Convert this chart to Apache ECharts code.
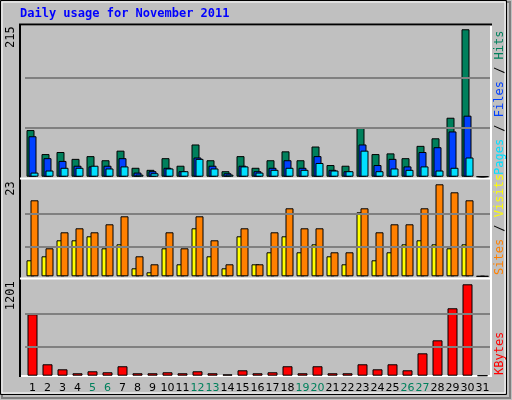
<!DOCTYPE html>
<html><head><meta charset="utf-8">
<script src="https://cdn.jsdelivr.net/npm/echarts@6/dist/echarts.min.js"></script>
<style>html,body{margin:0;padding:0;background:#c0c0c0}#c{width:512px;height:400px}</style>
</head><body><div id="c"></div>
<script>
const days = ['1','2','3','4','5','6','7','8','9','10','11','12','13','14','15','16','17','18','19','20','21','22','23','24','25','26','27','28','29','30','31'];
const weekendDays = ['5','6','12','13','19','20','26','27'];
const hits  = [68,33,36,26,30,24,38,13,10,27,16,47,24,8,30,13,24,37,24,44,17,16,72,33,34,27,45,56,86,215,0];
const files = [59,27,23,16,15,16,27,6,8,13,8,28,16,5,16,8,13,24,13,30,10,8,47,17,26,15,36,43,66,89,0];
const pages = [6,9,13,13,16,12,15,3,5,12,8,26,12,3,15,6,10,13,10,20,9,8,38,8,12,10,15,9,13,28,0];
const visits= [4,5,9,9,10,7,8,2,1,7,3,12,5,2,10,3,6,10,6,8,5,3,16,4,6,8,9,8,7,8,0];
const sites = [19,7,11,12,11,13,15,5,3,11,7,15,9,3,12,3,11,17,12,12,6,6,17,11,13,13,17,23,21,19,0];
const kbytes= [807,150,84,32,58,45,124,32,32,45,32,58,32,18,71,32,45,124,32,124,32,32,150,84,150,71,294,465,886,1201,0];

const MONO = 'DejaVu Sans Mono';
const L = 25, W = 465;
const panels = [{top:25.3,h:151.4,max:220.8,grid:[72.1,144.1]},
                {top:180.3,h:96,max:24,grid:[7.5,15.75]},
                {top:280.3,h:95.4,max:1253.6,grid:[386,820]}];
const grid = panels.map(p=>({left:L,width:W,top:p.top,height:p.h}));
const xAxis = panels.map((p,i)=>({type:'category',data:days,gridIndex:i,
  axisLine:{show:false},axisTick:{show:false},
  axisLabel:{show:i===2,interval:0,margin:7,fontFamily:'DejaVu Sans',fontSize:11,
    color:(v)=>weekendDays.includes(v)?'#00805c':'#000000'}}));
const yAxis = panels.map((p,i)=>({type:'value',gridIndex:i,min:0,max:p.max,
  axisLine:{show:false},axisTick:{show:false},axisLabel:{show:false},splitLine:{show:false}}));
const ml = (vals)=>({silent:true,symbol:'none',label:{show:false},
  lineStyle:{color:'#808080',type:'solid',width:2},data:vals.map(v=>({yAxis:v}))});
const bar = (name,data,color,ax,w,gap,extra)=>Object.assign({type:'bar',name,data,xAxisIndex:ax,yAxisIndex:ax,
  barWidth:w,barGap:gap,animation:false,itemStyle:{color,borderColor:'#000',borderWidth:1}},extra||{});
const series = [
  bar('Hits',hits,'#00805c',0,8,'-75%',{markLine:ml(panels[0].grid),z:1}),
  bar('Files',files,'#0040ff',0,8,'-75%',{z:2}),
  bar('Pages',pages,'#00e0ff',0,8,'-75%',{z:3}),
  bar('Visits',visits,'#ffff00',1,8,'-50%',{markLine:ml(panels[1].grid)}),
  bar('Sites',sites,'#ff8000',1,8,'-50%'),
  bar('KBytes',kbytes,'#ff0000',2,10,'0%',{markLine:ml(panels[2].grid)})
];
const maxLabels = [Math.max(...hits),Math.max(...sites),Math.max(...kbytes)].map(String);

const g = [];
g.push({type:'rect',shape:{x:2,y:2,width:508,height:396},style:{fill:'none',stroke:'#808080',lineWidth:2},z:-10});
g.push({type:'rect',shape:{x:0.5,y:0.5,width:506,height:394},style:{fill:'#c0c0c0',stroke:'#000',lineWidth:1},z:-9});
g.push({type:'rect',shape:{x:2,y:2,width:503,height:391},style:{fill:'none',stroke:'#ffffff',lineWidth:1},z:-9});
g.push({type:'rect',shape:{x:20,y:25,width:471,height:351},style:{fill:'#c0c0c0',stroke:'#ffffff',lineWidth:2},z:-5});
g.push({type:'polyline',shape:{points:[[20,377],[20,24.5],[492,24.5]]},style:{stroke:'#000',lineWidth:2,fill:null},z:-4});
g.push({type:'line',shape:{x1:20,y1:178.5,x2:491,y2:178.5},style:{stroke:'#fff',lineWidth:2},z:-4});
g.push({type:'line',shape:{x1:20,y1:278.5,x2:491,y2:278.5},style:{stroke:'#fff',lineWidth:2},z:-4});
g.push({type:'text',left:20,top:8,style:{text:'Daily usage for November 2011',font:'bold 12px '+MONO,fill:'#0000ff'}});
panels.forEach((p,i)=>{
  g.push({type:'text',x:5,y:p.top+1,rotation:Math.PI/2,style:{text:maxLabels[i],font:'12px '+MONO,fill:'#000',align:'right',verticalAlign:'top'}});
});
function legend(parts,yBottom){
  g.push({type:'text',x:494,y:yBottom,rotation:Math.PI/2,
    style:{text:parts.map((p,k)=>'{s'+k+'|'+p[0]+'}').join(''),font:'12px '+MONO,verticalAlign:'top',align:'left',
      rich:Object.fromEntries(parts.map((p,k)=>['s'+k,{fill:p[1],font:'12px '+MONO}]))}});
}
legend([['Pages','#00e0ff'],[' / ','#000'],['Files','#0040ff'],[' / ','#000'],['Hits','#00805c']],175);
legend([['Sites','#ff8000'],[' / ','#000'],['Visits','#ffff00']],275);
legend([['KBytes','#ff0000']],375);

const chart = echarts.init(document.getElementById('c'),null,{renderer:'canvas'});
chart.setOption({backgroundColor:'#c0c0c0',animation:false,grid,xAxis,yAxis,series,graphic:g});
</script></body></html>
